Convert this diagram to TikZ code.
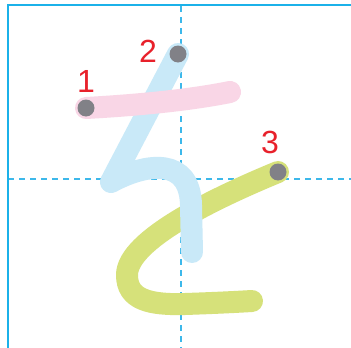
\documentclass[tikz,border=0pt]{standalone}
\usepackage{fontspec}
\setmainfont{Liberation Sans}
\definecolor{gridblue}{HTML}{1BB1E9}
\definecolor{dashblue}{HTML}{3DB8EA}
\definecolor{pinkstroke}{HTML}{F9D6E6}
\definecolor{bluestroke}{HTML}{C9E9F8}
\definecolor{greenstroke}{HTML}{D6E17A}
\definecolor{dotgrey}{HTML}{818187}
\definecolor{numred}{HTML}{E8212B}
\tikzset{
  frame/.style={draw=gridblue, line width=2pt},
  guide/.style={draw=dashblue, line width=1.2pt, dash pattern=on 6pt off 5pt},
  kstroke/.style={line width=22pt, line cap=round, line join=round},
  startdot/.style={circle, fill=dotgrey, minimum size=17pt, inner sep=0pt},
  num/.style={text=numred, font=\fontsize{32}{32}\selectfont, inner sep=0pt}
}
\begin{document}
\begin{tikzpicture}[x=1pt,y=-1pt]
  \useasboundingbox[fill=white] (0,0) rectangle (351,348);
  % guides
  \coordinate (vtop) at (181,6);
  \coordinate (vbot) at (181,348);
  \coordinate (hl) at (8,179);
  \coordinate (hr) at (351,179);
  \draw[guide] (vtop) -- (vbot);
  \draw[guide] (hl) -- (hr);
  % frame
  \coordinate (ftl) at (7.5,5);
  \coordinate (ftr) at (351,5);
  \coordinate (fbl) at (7.5,348);
  \draw[frame] (fbl) -- (ftl) -- (ftr);
  % stroke 3 (green)
  \draw[kstroke, draw=greenstroke] (278,172) .. controls (215,198) and (127,240) .. (127,275)
     .. controls (127,300) and (150,305) .. (185,304) .. controls (215,303) and (235,302) .. (252,301);
  % stroke 2 (blue)
  \draw[kstroke, draw=bluestroke] (178,54) -- (111,182) .. controls (148,162) and (190,158) .. (191,205) -- (192,252);
  % stroke 1 (pink)
  \draw[kstroke, draw=pinkstroke] (86,108) .. controls (140,105) and (190,100) .. (230,92);
  % start dots
  \node[startdot] (d1) at (86,108) {};
  \node[startdot] (d2) at (178,54) {};
  \node[startdot] (d3) at (278,172) {};
  % numbers
  \node[num] (n1) at (86,81) {1};
  \node[num] (n2) at (148,51) {2};
  \node[num] (n3) at (270,142) {3};
\end{tikzpicture}
\end{document}
